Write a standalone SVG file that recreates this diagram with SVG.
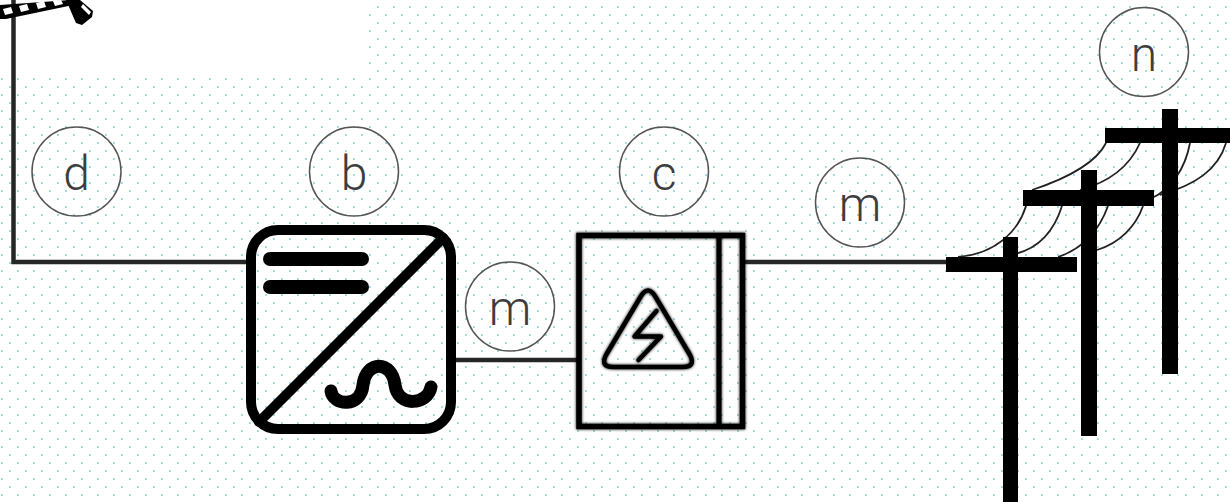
<svg xmlns="http://www.w3.org/2000/svg" width="1230" height="502" viewBox="0 0 1230 502">
  <defs>
    <pattern id="dot-grid" width="16" height="16" patternUnits="userSpaceOnUse">
      <rect x="1" y="14" width="2" height="2" fill="#aed9da"/>
      <rect x="9" y="6" width="2" height="2" fill="#aed9da"/>
    </pattern>
    <filter id="soft" x="-10%" y="-10%" width="120%" height="120%">
      <feGaussianBlur in="SourceGraphic" stdDeviation="1.4" result="b"/>
      <feMerge><feMergeNode in="b"/><feMergeNode in="SourceGraphic"/></feMerge>
    </filter>
    <filter id="edge" x="-10%" y="-10%" width="120%" height="120%">
      <feGaussianBlur in="SourceGraphic" stdDeviation="0.5"/>
    </filter>
  </defs>
  <style>
    .wire { fill: none; stroke: #262626; stroke-width: 4.5; }
    .tag circle { fill: none; stroke: #555; stroke-width: 1.5; }
    .tag text { font-family: Roboto, "Liberation Sans", sans-serif; font-weight: 300; font-size: 48px; fill: #3d3d3d; text-anchor: middle; }
    .icon { fill: none; stroke: #000; stroke-linecap: round; stroke-linejoin: round; }
    .cable { fill: none; stroke: #222; stroke-width: 1.8; }
    .pole { fill: #000; }
  </style>

  <!-- background -->
  <rect width="1230" height="502" fill="#fff"/>
  <rect width="1230" height="502" fill="url(#dot-grid)"/>
  <rect x="0" y="0" width="367" height="76" fill="#fff"/>

  <!-- connectors -->
  <g id="connectors">
    <polyline class="wire" points="13.5,0 13.5,262 250,262"/>
    <line class="wire" x1="454" y1="360" x2="578" y2="360"/>
    <line class="wire" x1="743" y1="262" x2="952" y2="262"/>
  </g>

  <!-- solar panel (edge of frame) -->
  <g id="node-solar">
    <polygon points="0,5 70,0 76,0 78,4 6,19 0,19" fill="#000"/>
    <g fill="#fff">
      <polygon points="3,9 11,7 13,13 5,15"/>
      <polygon points="19,6 27,4 29,10 21,12"/>
      <polygon points="36,3 44,1 46,7 38,9"/>
      <polygon points="53,1 61,0 63,4 55,6"/>
    </g>
    <polygon points="66,0 80,0 93,11 92,17 82,25 76,23" fill="#000"/>
    <polygon points="83,4 91,12 89,15 81,7" fill="#fff"/>
  </g>

  <!-- inverter -->
  <g id="node-inverter">
    <rect x="251" y="230" width="200" height="199" rx="27" class="icon" stroke-width="10"/>
    <line x1="443" y1="238" x2="259" y2="422" class="icon" stroke-width="10"/>
    <line x1="270" y1="259" x2="362" y2="259" class="icon" stroke-width="14"/>
    <line x1="270" y1="287" x2="362" y2="287" class="icon" stroke-width="14"/>
    <path d="M331,391 C333,406 361,408 363,385 C366,360 392,360 395,385 C398,408 428,405 431,387" class="icon" stroke-width="13"/>
  </g>

  <!-- distribution box -->
  <g id="node-box" filter="url(#soft)">
    <rect x="579" y="235.5" width="163.5" height="191" fill="none" stroke="#000" stroke-width="5.5"/>
    <line x1="719" y1="235.5" x2="719" y2="426.5" stroke="#000" stroke-width="5"/>
    <path d="M641,296 Q648,285 655,296 L690,355 Q696,367 683,367 L613,367 Q600,367 606,355 Z" class="icon" stroke-width="4.5"/>
    <polyline points="656.5,311 634.5,336.5 661,336.5 638.5,360" class="icon" stroke-width="4.5"/>
  </g>

  <!-- power line -->
  <g id="node-grid">
    <g id="cables">
      <path class="cable" d="M958,257 C995,254 1018,232 1026,206"/>
      <path class="cable" d="M1010,255 C1040,250 1055,228 1062,206"/>
      <path class="cable" d="M1058,257 C1085,248 1100,228 1108,206"/>
      <path class="cable" d="M1097,250 C1120,243 1136,226 1143,206"/>
      <path class="cable" d="M1032,190 C1062,180 1095,165 1106,143"/>
      <path class="cable" d="M1080,190 C1110,182 1130,165 1140,143"/>
      <path class="cable" d="M1152,198 C1170,190 1185,170 1190,143"/>
      <path class="cable" d="M1160,195 C1195,185 1218,170 1226,143"/>
    </g>
    <g filter="url(#edge)">
      <rect class="pole" x="1003" y="237" width="15" height="265"/>
      <rect class="pole" x="946" y="257" width="131" height="15"/>
      <rect class="pole" x="1081" y="170" width="16" height="266"/>
      <rect class="pole" x="1023" y="190" width="131" height="16"/>
      <rect class="pole" x="1162" y="109" width="16" height="265"/>
      <rect class="pole" x="1105" y="128" width="130" height="15"/>
    </g>
  </g>

  <!-- labels -->
  <g id="tag-d" class="tag"><circle cx="76.5" cy="171.5" r="44.5"/><text x="76.5" y="190">d</text></g>
  <g id="tag-b" class="tag"><circle cx="354" cy="171.5" r="44.5"/><text x="354" y="190">b</text></g>
  <g id="tag-c" class="tag"><circle cx="664" cy="171.5" r="44.5"/><text x="664" y="190">c</text></g>
  <g id="tag-m1" class="tag"><circle cx="510" cy="306.5" r="44.5"/><text x="510" y="325">m</text></g>
  <g id="tag-m2" class="tag"><circle cx="860" cy="202.5" r="44.5"/><text x="860" y="221">m</text></g>
  <g id="tag-n" class="tag"><circle cx="1144" cy="52" r="44.5"/><text x="1144" y="70.5">n</text></g>
</svg>
